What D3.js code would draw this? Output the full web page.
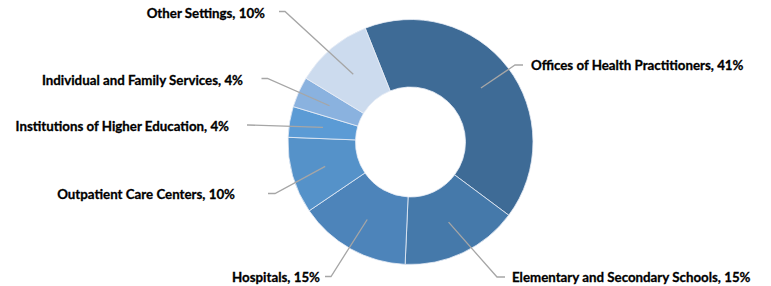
<!DOCTYPE html>
<html>
<head>
<meta charset="utf-8">
<script src="https://cdn.jsdelivr.net/npm/d3@7"></script>
<style>
  body { margin: 0; background: #fff; }
  svg { display: block; }
  .lbl { font-family: Lato, "Liberation Sans", sans-serif; font-weight: bold; font-size: 13.3px; fill: #000; stroke: #000; stroke-width: 0.3px; }
</style>
</head>
<body>
<div id="chart"></div>
<script>
// data, clockwise from the top-left
const categories = ['Offices of Health Practitioners', 'Elementary and Secondary Schools', 'Hospitals',
    'Outpatient Care Centers', 'Institutions of Higher Education', 'Individual and Family Services', 'Other Settings'];
const shares = [41.2, 15.5, 14.8, 10.1, 4.05, 4.05, 10.25];
const shareLabels = ['41%', '15%', '15%', '10%', '4%', '4%', '10%'];

const colors = ['#3e6b96', '#4579aa', '#4d84ba', '#5592c9', '#5b9bd5', '#8ab2df', '#ccdbee'];

// label layout: text edge (x, y), anchor side, leader stub end (lx, ly) and stub length
const labelLayout = [
    { x: 531, y: 65, side: 'start', lx: 523, ly: 65, stub: 8 },
    { x: 512, y: 277, side: 'start', lx: 505, ly: 277, stub: 8 },
    { x: 320, y: 277, side: 'end', lx: 325, ly: 276.5, stub: 6 },
    { x: 235, y: 194, side: 'end', lx: 268, ly: 193.5, stub: 7 },
    { x: 229, y: 126, side: 'end', lx: 247, ly: 125, stub: 1 },
    { x: 243, y: 80, side: 'end', lx: 261.5, ly: 78.5, stub: 6 },
    { x: 265, y: 13, side: 'end', lx: 279, ly: 11.5, stub: 6 }
];

const width = 771, height = 286,
    cx = 410.5, cy = 142,
    outerR = 122.5, innerR = 55;

const svg = d3.select('#chart').append('svg')
    .attr('width', width)
    .attr('height', height);

const pie = d3.pie().sort(null)
    .startAngle(-21.7 * Math.PI / 180)
    .endAngle((360 - 21.7) * Math.PI / 180);

const arc = d3.arc().innerRadius(innerR).outerRadius(outerR);
const mid = d3.arc().innerRadius((innerR + outerR) / 2).outerRadius((innerR + outerR) / 2);

const arcs = pie(shares);

const g = svg.append('g').attr('transform', `translate(${cx},${cy})`);

g.selectAll('path.slice')
    .data(arcs)
    .enter()
    .append('path')
    .attr('class', 'slice')
    .attr('d', arc)
    .attr('fill', (d, i) => colors[i])
    .attr('stroke', '#e8eef6')
    .attr('stroke-width', 0.8);

// leader lines
svg.selectAll('polyline.leader')
    .data(arcs)
    .enter()
    .append('polyline')
    .attr('class', 'leader')
    .attr('fill', 'none')
    .attr('stroke', '#a6a6a6')
    .attr('stroke-width', 1.3)
    .attr('points', (d, i) => {
        const c = mid.centroid(d);
        const L = labelLayout[i];
        const kx = L.side === 'start' ? L.lx - L.stub : L.lx + L.stub;
        return [[cx + c[0], cy + c[1]], [kx, L.ly], [L.lx, L.ly]].map(p => p.join(',')).join(' ');
    });

svg.selectAll('text.lbl')
    .data(arcs)
    .enter()
    .append('text')
    .attr('class', 'lbl')
    .attr('x', (d, i) => labelLayout[i].x)
    .attr('y', (d, i) => labelLayout[i].y)
    .attr('dy', '0.35em')
    .attr('text-anchor', (d, i) => labelLayout[i].side)
    .text((d, i) => categories[i] + ', ' + shareLabels[i]);
</script>
</body>
</html>
